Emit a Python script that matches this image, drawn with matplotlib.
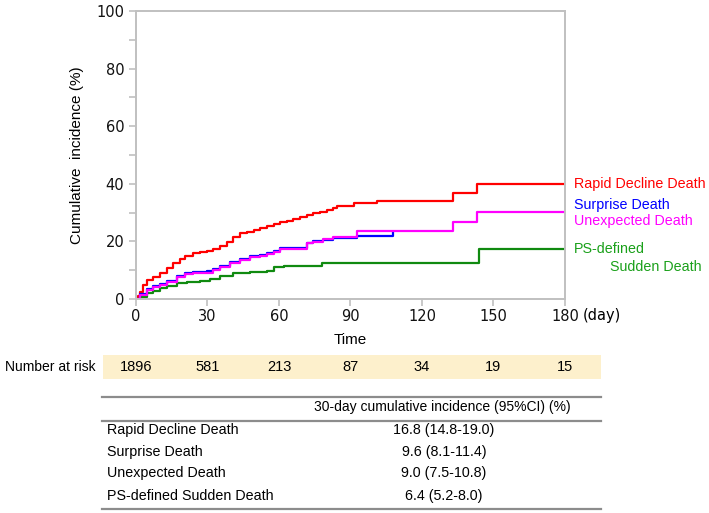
import matplotlib
matplotlib.use('Agg')
import matplotlib.pyplot as plt
from matplotlib.lines import Line2D
from matplotlib.patches import Rectangle
from matplotlib.transforms import blended_transform_factory

# cumulative incidence curves (day, %)
rapid_days = [0, 0.8, 1.7, 3.1, 4.5, 7.3, 10.1, 12.9, 15.7, 18.5, 20.6, 24.1, 26.9, 29.7, 32.5,
              35.3, 38.1, 40.9, 43.8, 46.6, 49.4, 52.2, 55, 57.8, 60.4, 63.2, 66, 68.8, 71.6,
              74.4, 77.2, 80, 82.8, 84.2, 91.5, 101, 132.8, 142.9, 180]
rapid_vals = [0, 1.2, 2.5, 4.9, 6.6, 7.7, 9.1, 10.6, 12.4, 13.9, 15.0, 15.8, 16.4, 16.8, 17.3,
              18.5, 19.9, 21.4, 22.8, 23.4, 23.9, 24.5, 25.3, 26.0, 26.8, 27.2, 27.6, 28.6, 29.1,
              29.7, 30.3, 30.9, 31.7, 32.4, 33.2, 34.1, 36.9, 39.9, 39.9]

surprise_days = [0, 1.7, 4.5, 7.3, 10.1, 12.9, 17.1, 20.6, 24.1, 29.7, 32.5, 35.3, 39.5, 43.8,
                 48, 52.2, 55, 57.8, 60.4, 71.6, 74.4, 78.6, 82.8, 92.6, 108]
surprise_vals = [0, 1.7, 3.5, 4.4, 5.3, 6.4, 7.9, 9.1, 9.5, 9.6, 10.4, 11.6, 12.8, 13.9,
                 14.9, 15.3, 16.0, 16.8, 17.6, 19.3, 20.1, 20.6, 21.0, 21.8, 23.4]

unexp_days = [0, 1.7, 4.5, 7.3, 10.1, 12.9, 17.1, 20.6, 24.1, 29.7, 32.5, 35.3, 39.5, 43.8,
              48, 52.2, 55, 57.8, 60.6, 71.6, 74.4, 78.6, 82.8, 92.6, 132.8, 142.9, 180]
unexp_vals = [0, 1.4, 3.1, 4.0, 4.9, 6.0, 7.5, 8.7, 8.9, 9.0, 10.0, 11.2, 12.4, 13.5,
              14.5, 14.9, 15.6, 16.4, 17.4, 19.3, 19.9, 20.8, 21.4, 23.6, 26.8, 30.3, 30.3]

ps_days = [0, 1.7, 4.5, 7.3, 10.1, 12.9, 17.1, 21.3, 26.9, 29.8, 31.1, 35.3, 40.9, 48, 55,
           57.8, 61.9, 68.8, 77.9, 144, 180]
ps_vals = [0, 0.8, 2.0, 2.9, 3.7, 4.5, 5.4, 6.0, 6.2, 6.4, 6.8, 8.0, 8.9, 9.5, 9.8,
           11.2, 11.4, 11.6, 12.4, 17.2, 17.2]

risk_days = [0, 30, 60, 90, 120, 150, 180]
risk_counts = [1896, 581, 213, 87, 34, 19, 15]

table_rows = ['Rapid Decline Death', 'Surprise Death', 'Unexpected Death', 'PS-defined Sudden Death']
table_vals = ['16.8 (14.8-19.0)', '9.6 (8.1-11.4)', '9.0 (7.5-10.8)', '6.4 (5.2-8.0)']

GRAY = '#c0c0c0'
SANS = ['Liberation Sans', 'DejaVu Sans']

fig = plt.figure(figsize=(7.09, 5.13), dpi=100)
ax = fig.add_axes([0.1918, 0.4172, 0.6051, 0.5614])

ax.step(ps_days, ps_vals, where='post', color='#108a10', lw=1.6)
ax.step(rapid_days, rapid_vals, where='post', color='#ff0000', lw=1.6)
ax.step(surprise_days, surprise_vals, where='post', color='#0000ff', lw=1.6)
ax.step(unexp_days, unexp_vals, where='post', color='#ff00ff', lw=1.6)

ax.set_xlim(0, 180)
ax.set_ylim(0, 100)
ax.set_xticks(range(0, 181, 30))
ax.set_yticks(range(0, 101, 20))
ax.set_yticks(range(10, 100, 20), minor=True)
for s in ax.spines.values():
    s.set_color(GRAY)
    s.set_linewidth(1.4)
ax.tick_params(which='both', colors=GRAY, length=5, width=1.2, labelcolor='#111111', labelsize=10.5)
ax.tick_params(axis='x', pad=2.5)
ax.tick_params(axis='y', pad=3.5)

ax.set_xlabel('Time', fontsize=11, family=SANS)
ax.xaxis.label.set_va('center')
ax.xaxis.set_label_coords(0.5, -0.142)
ax.set_ylabel('Cumulative  incidence (%)', fontsize=11, family=SANS)
ax.yaxis.label.set_va('center')
ax.yaxis.set_label_coords(-0.1375, 0.5)

ax.annotate('(day)', xy=(1, 0), xycoords='axes fraction', xytext=(12.5, -12.2),
            textcoords='offset points', ha='left', va='center', fontsize=10.5)

# curve labels
lab = dict(transform=ax.get_yaxis_transform(), fontsize=10.3, family=SANS, va='center',
           ha='left', clip_on=False)
ax.text(1.021, 40.0, 'Rapid Decline Death', color='#ff0000', **lab)
ax.text(1.021, 32.6, 'Surprise Death', color='#0000ff', **lab)
ax.text(1.021, 27.2, 'Unexpected Death', color='#ff00ff', **lab)
ax.text(1.021, 17.3, 'PS-defined', color='#1aa01a', **lab)
ax.text(1.105, 11.2, 'Sudden Death', color='#1aa01a', **lab)

# number at risk band
fig.patches.append(Rectangle((0.1453, 0.2612), 0.7024, 0.0468, transform=fig.transFigure,
                             facecolor='#fdf0cc', edgecolor='none', zorder=0))
fig.text(0.007, 0.2846, 'Number at risk', fontsize=10, family=SANS, va='center', ha='left')
risk_tr = blended_transform_factory(ax.transData, fig.transFigure)
for d, n in zip(risk_days, risk_counts):
    fig.text(d, 0.2846, str(n), transform=risk_tr, fontsize=10.5, family=SANS,
             ha='center', va='center')

# 30-day table
for y in [0.2261, 0.1799, 0.0078]:
    fig.lines.append(Line2D([0.1439, 0.8477], [y, y], transform=fig.transFigure,
                            color='#8c8c8c', lw=1.6))
fig.text(0.6234, 0.2066, '30-day cumulative incidence (95%CI) (%)', fontsize=10,
         family=SANS, ha='center', va='center')
for y, name, val in zip([0.1618, 0.1183, 0.0774, 0.0331], table_rows, table_vals):
    fig.text(0.1509, y, name, fontsize=10.3, family=SANS, ha='left', va='center')
    fig.text(0.626, y, val, fontsize=10.3, family=SANS, ha='center', va='center')

fig.savefig('out.png', dpi=100)
